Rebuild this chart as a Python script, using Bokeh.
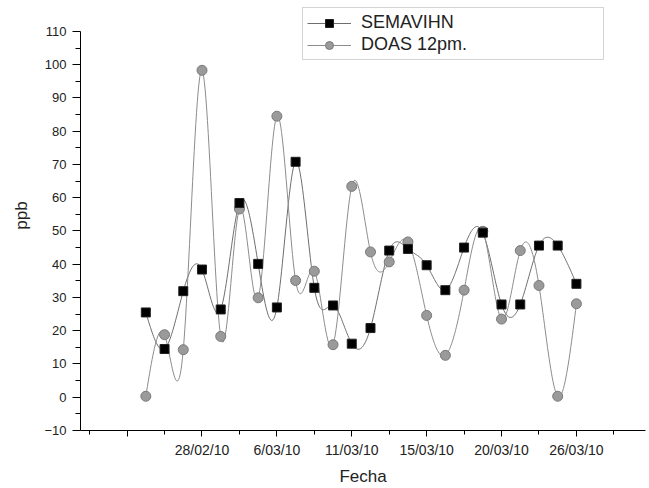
import numpy as np
from bokeh.plotting import figure
from bokeh.models import Range1d, FixedTicker, Legend, LegendItem
from bokeh.embed import file_html
from bokeh.resources import INLINE

# ---- data ----
point_index = list(range(24))
semavihn = [25.5, 14.5, 31.9, 38.4, 26.4, 58.4, 40.1, 27.0, 70.8, 32.9, 27.6, 16.1,
            20.8, 44.1, 44.6, 39.7, 32.2, 45.0, 49.5, 27.9, 27.9, 45.6, 45.6, 34.1]
doas = [0.3, 18.8, 14.3, 98.3, 18.3, 56.6, 29.9, 84.5, 35.1, 37.9, 15.8, 63.4,
        43.7, 40.7, 46.7, 24.6, 12.6, 32.2, 49.9, 23.5, 44.1, 33.6, 0.3, 28.1]
tick_index = [-1, 3, 7, 11, 15, 19, 23]
tick_labels = ["", "28/02/10", "6/03/10", "11/03/10", "15/03/10", "20/03/10", "26/03/10"]
minor_index = [-3, 1, 5, 9, 13, 17, 21, 25]
y_min, y_max = -10, 110


def natural_spline(xs, ys, per_seg=24):
    xs = np.asarray(xs, float)
    ys = np.asarray(ys, float)
    n = len(xs)
    h = np.diff(xs)
    A = np.zeros((n, n))
    r = np.zeros(n)
    A[0, 0] = 1.0
    A[-1, -1] = 1.0
    for i in range(1, n - 1):
        A[i, i - 1] = h[i - 1]
        A[i, i] = 2 * (h[i - 1] + h[i])
        A[i, i + 1] = h[i]
        r[i] = 6 * ((ys[i + 1] - ys[i]) / h[i] - (ys[i] - ys[i - 1]) / h[i - 1])
    M = np.linalg.solve(A, r)
    ox, oy = [], []
    for i in range(n - 1):
        t = np.linspace(xs[i], xs[i + 1], per_seg, endpoint=(i == n - 2))
        a = xs[i + 1] - t
        b = t - xs[i]
        s = (M[i] * a ** 3 + M[i + 1] * b ** 3) / (6 * h[i]) \
            + (ys[i] / h[i] - M[i] * h[i] / 6) * a \
            + (ys[i + 1] / h[i] - M[i + 1] * h[i] / 6) * b
        ox.extend(t.tolist())
        oy.extend(s.tolist())
    return ox, oy


FONT = "Liberation Sans"

# frame spans the full top so the legend (above the 110 line) is not clipped
p = figure(width=649, height=488, output_backend="svg", toolbar_location=None,
           x_range=Range1d(-3.49, 26.69), y_range=Range1d(y_min, y_max + 9.3),
           min_border_left=80, min_border_right=4, min_border_top=0, min_border_bottom=57)
p.outline_line_color = None
p.xgrid.visible = False
p.ygrid.visible = False
p.background_fill_color = "white"
p.border_fill_color = "white"

sx, sy = natural_spline(point_index, semavihn)
dx, dy = natural_spline(point_index, doas)

l1 = p.line(sx, sy, line_color="#6e6e6e", line_width=1)
l2 = p.line(dx, dy, line_color="#8c8c8c", line_width=1)
s2 = p.scatter(point_index, doas, marker="circle", size=10,
               fill_color="#9a9a9a", line_color="#7a7a7a", line_width=1)
s1 = p.scatter(point_index, semavihn, marker="square", size=9,
               fill_color="black", line_color="#222222", line_width=1)

# axes
p.xaxis.ticker = FixedTicker(ticks=tick_index, minor_ticks=minor_index)
p.xaxis.major_label_overrides = {k: v for k, v in zip(tick_index, tick_labels)}
p.yaxis.ticker = FixedTicker(ticks=list(range(y_min, y_max + 1, 10)),
                             minor_ticks=list(range(y_min + 5, y_max, 10)))
p.yaxis.bounds = (y_min, y_max)
for ax in (p.xaxis[0], p.yaxis[0]):
    ax.axis_line_color = "black"
    ax.major_tick_line_color = "black"
    ax.minor_tick_line_color = "black"
    ax.major_tick_in = 0
    ax.minor_tick_in = 0
    ax.major_label_text_font = FONT
    ax.major_label_text_color = "#222222"
    ax.axis_label_text_font = FONT
    ax.axis_label_text_font_style = "normal"
    ax.axis_label_text_color = "#222222"
    ax.axis_label_text_font_size = "17px"

p.xaxis.axis_label = "Fecha"
p.yaxis.axis_label = "ppb"
p.xaxis.major_tick_out = 6
p.xaxis.minor_tick_out = 4
p.xaxis.major_label_standoff = 5
p.xaxis.major_label_text_font_size = "14px"
p.xaxis.axis_label_standoff = 6
p.yaxis.major_tick_out = 8
p.yaxis.minor_tick_out = 5
p.yaxis.major_label_standoff = 6
p.yaxis.major_label_text_font_size = "13px"
p.yaxis.axis_label_standoff = 10

legend = Legend(items=[LegendItem(label="SEMAVIHN", renderers=[l1, s1]),
                       LegendItem(label="DOAS 12pm.", renderers=[l2, s2])],
                location=(222, 370), orientation="vertical",
                label_text_font=FONT, label_text_font_size="18px",
                label_text_color="#222222",
                glyph_width=44, glyph_height=20, label_height=20,
                label_width=238, label_standoff=10, spacing=1, padding=4,
                margin=0, border_line_color="#aaaaaa", border_line_width=1,
                background_fill_alpha=0.0)
p.add_layout(legend)

open("out.html", "w").write(file_html(p, INLINE))
